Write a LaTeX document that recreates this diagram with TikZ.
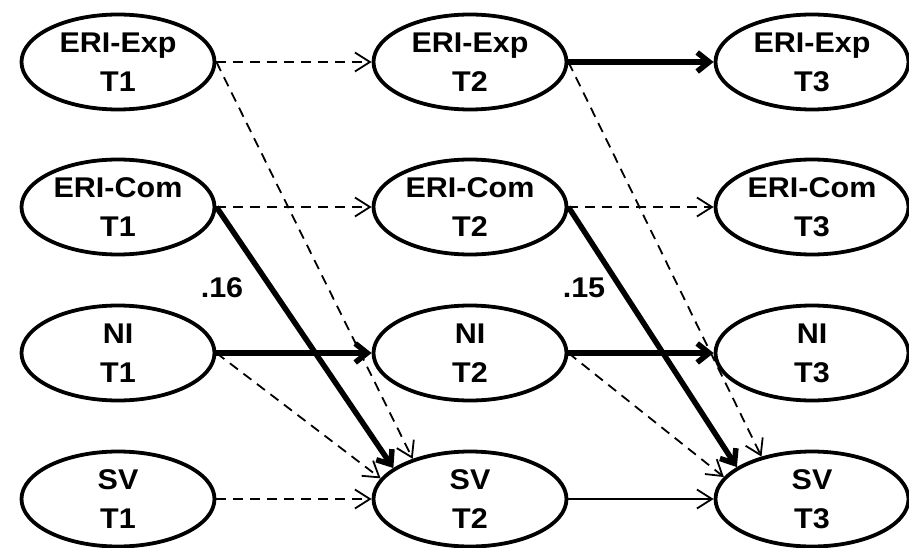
\documentclass[tikz,border=0pt]{standalone}
\usepackage{fontspec}
\setmainfont{Liberation Sans}[FakeStretch=1.07]
\usetikzlibrary{arrows.meta,shapes.geometric}
\begin{document}
\begin{tikzpicture}[x=1pt,y=-1pt,
  var/.style={ellipse, draw, line width=3.8pt, minimum width=193pt,
    minimum height=95pt, inner sep=0pt, align=center,
    font=\fontsize{28.5}{39}\selectfont\bfseries},
  lab/.style={inner sep=0pt, font=\fontsize{28.5}{34}\selectfont\bfseries},
  thin/.style={line width=1.8pt, -{Straight Barb[length=15pt,width=19pt]}},
  dsh/.style={thin, dash pattern=on 10pt off 7pt},
  strong/.style={line width=5.5pt, -{Straight Barb[length=12pt,width=19pt]}}
]
\useasboundingbox (0,0) rectangle (909,548);

% latent variables, three waves
\node[var] (e1) at (118,62)  {ERI-Exp\\T1};
\node[var] (c1) at (118,207) {ERI-Com\\T1};
\node[var] (n1) at (118,353) {NI\\T1};
\node[var] (s1) at (118,499) {SV\\T1};

\node[var] (e2) at (470,62)  {ERI-Exp\\T2};
\node[var] (c2) at (470,207) {ERI-Com\\T2};
\node[var] (n2) at (470,353) {NI\\T2};
\node[var] (s2) at (470,499) {SV\\T2};

\node[var] (e3) at (812,62)  {ERI-Exp\\T3};
\node[var] (c3) at (812,207) {ERI-Com\\T3};
\node[var] (n3) at (812,353) {NI\\T3};
\node[var] (s3) at (812,499) {SV\\T3};

% T1 -> T2 paths
\draw[dsh] (e1.east) -- (e2.west);
\draw[dsh] (c1.east) -- (c2.west);
\draw[strong] (n1.east) -- (n2.west);
\draw[dsh] (s1.east) -- (s2.west);
\draw[dsh] (e1.east) -- (s2.145);
\draw[dsh] (n1.east) -- (s2.167);
\draw[strong] (c1.east) -- (s2.158);

% T2 -> T3 paths
\draw[strong] (e2.east) -- (e3.west);
\draw[dsh] (c2.east) -- (c3.west);
\draw[strong] (n2.east) -- (n3.west);
\draw[thin] (s2.east) -- (s3.west);
\draw[dsh] (e2.east) -- (s3.140);
\draw[dsh] (n2.east) -- (s3.166);
\draw[strong] (c2.east) -- (s3.157);

% path coefficients
\node[lab] (l16) at (222,288) {.16};
\node[lab] (l15) at (584,288) {.15};
\end{tikzpicture}
\end{document}
